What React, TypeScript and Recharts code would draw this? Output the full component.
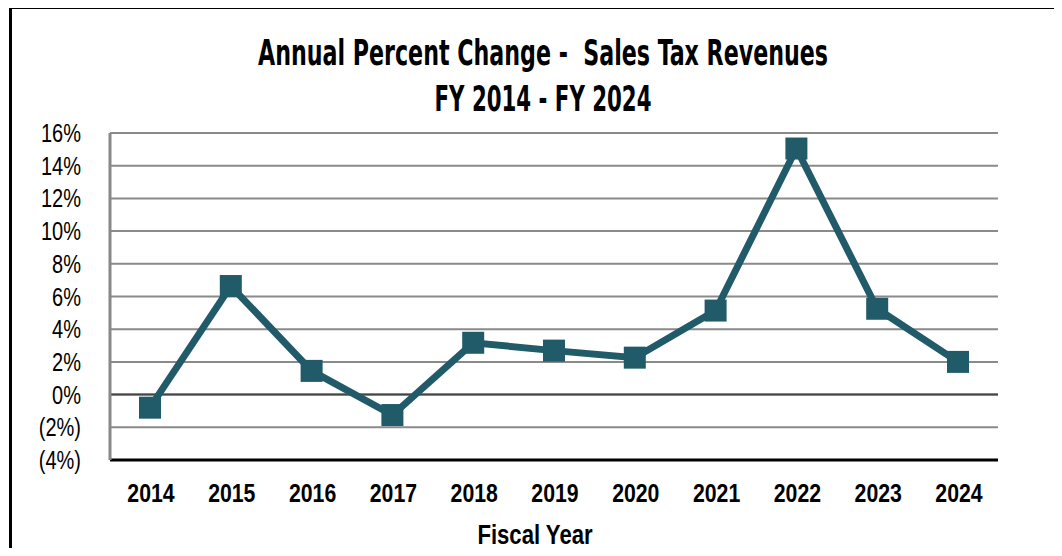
import React from "react";
import { LineChart, Line, XAxis, YAxis, CartesianGrid, ReferenceLine } from "recharts";

const years = ["2014", "2015", "2016", "2017", "2018", "2019", "2020", "2021", "2022", "2023", "2024"];
const pctChange = [-0.8, 6.64, 1.45, -1.25, 3.17, 2.69, 2.26, 5.14, 15.05, 5.25, 2.0];
const yTicks = [-4, -2, 0, 2, 4, 6, 8, 10, 12, 14, 16];
const titleLines = ["Annual Percent Change -  Sales Tax Revenues", "FY 2014 - FY 2024"];
const xAxisTitle = "Fiscal Year";

const data = years.map((y, i) => ({ year: y, value: pctChange[i] }));

const LINE_COLOR = "#215B69";
const ARIAL = "'Liberation Sans', Arial, sans-serif";
const CONDENSED = "'DejaVu Sans Condensed', 'Liberation Sans', sans-serif";

const fmtPct = (v: number) => (v < 0 ? `(${-v}%)` : `${v}%`);
const keepSpaces = (s: string) => s.replace(/  /g, " \u00A0");

const NarrowText = ({ x, y, anchor, size, bold, sx, children }: any) => (
  <text
    transform={`translate(${x},${y}) scale(${sx ?? 0.82},1)`}
    textAnchor={anchor}
    fontFamily={ARIAL}
    fontWeight={bold ? "bold" : "normal"}
    fontSize={size}
    fill="#000"
  >
    {children}
  </text>
);

const YTick = (props: any) => {
  const { y, payload } = props;
  return (
    <NarrowText x={81} y={y + 9} anchor="end" size={25} sx={0.8}>
      {fmtPct(payload.value)}
    </NarrowText>
  );
};

const XTick = (props: any) => {
  const { x, y, payload } = props;
  return (
    <NarrowText x={x + 1} y={y + 34} anchor="middle" size={25} sx={0.85} bold>
      {payload.value}
    </NarrowText>
  );
};

const SquareDot = (props: any) => {
  const { cx, cy, index } = props;
  if (cx == null || cy == null) return null;
  return <rect key={`d${index}`} x={cx - 11} y={cy - 11} width={22} height={22} fill={LINE_COLOR} />;
};

export default function App() {
  return (
    <div style={{ position: "relative", width: 1062, height: 556, margin: -8, overflow: "hidden", background: "#fff" }}>
      <div
        style={{
          position: "absolute",
          left: 9,
          top: 6,
          width: 1052,
          height: 620,
          border: "3px solid #000",
          boxSizing: "border-box",
        }}
      />
      <svg width={1062} height={556} style={{ position: "absolute", left: 0, top: 0 }}>
        <text x={543} y={65} textAnchor="middle" fontFamily={CONDENSED} fontWeight="bold" fontSize={35} fill="#000"
          textLength={570} lengthAdjust="spacingAndGlyphs">
          {keepSpaces(titleLines[0])}
        </text>
        <text x={543} y={111} textAnchor="middle" fontFamily={CONDENSED} fontWeight="bold" fontSize={35} fill="#000"
          textLength={217} lengthAdjust="spacingAndGlyphs">
          {titleLines[1]}
        </text>
        <NarrowText x={535} y={544} anchor="middle" size={27} bold>
          {xAxisTitle}
        </NarrowText>
      </svg>
      <div style={{ position: "absolute", left: 0, top: 0 }}>
        <LineChart width={1062} height={556} data={data} margin={{ top: 133, right: 64, bottom: 36, left: 0 }}>
          <CartesianGrid vertical={false} stroke="#8a8a8a" strokeWidth={2} />
          <XAxis
            dataKey="year"
            height={60}
            padding={{ left: 40, right: 40 }}
            tickLine={false}
            axisLine={{ stroke: "#000", strokeWidth: 3 }}
            tick={<XTick />}
            interval={0}
          />
          <XAxis xAxisId="top" orientation="top" dataKey="year" height={0} tick={false} tickLine={false} axisLine={{ stroke: "#000", strokeWidth: 2.5 }} />
          <YAxis
            width={110}
            domain={[-4, 16]}
            ticks={yTicks}
            interval={0}
            tickLine={false}
            axisLine={{ stroke: "#888", strokeWidth: 3 }}
            tick={<YTick />}
          />
          <YAxis yAxisId="right" orientation="right" width={0} domain={[-4, 16]} tick={false} tickLine={false} axisLine={{ stroke: "#000", strokeWidth: 2.5 }} />
          <ReferenceLine y={0} stroke="#444" strokeWidth={2} />
          <Line
            type="linear"
            dataKey="value"
            stroke={LINE_COLOR}
            strokeWidth={7}
            dot={<SquareDot />}
            activeDot={false}
            isAnimationActive={false}
          />
        </LineChart>
      </div>
    </div>
  );
}
